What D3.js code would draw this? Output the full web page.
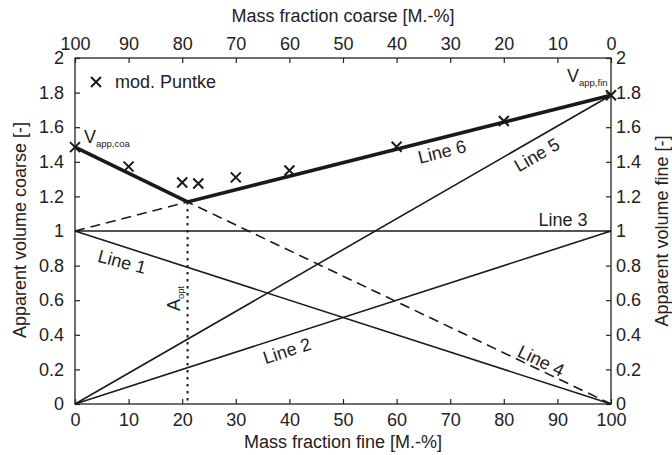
<!DOCTYPE html>
<html>
<head>
<meta charset="utf-8">
<script src="https://cdn.jsdelivr.net/npm/d3@7"></script>
<style>
  body { margin: 0; background: #fff; }
  svg { font-family: "Liberation Sans", Arial, sans-serif; }
</style>
</head>
<body>
<script>
// values
const fineTicks = [0, 10, 20, 30, 40, 50, 60, 70, 80, 90, 100];
const volTicks = [0, 0.2, 0.4, 0.6, 0.8, 1, 1.2, 1.4, 1.6, 1.8, 2];

const line1 = [[0, 1], [100, 0]];
const line2 = [[0, 0], [100, 1]];
const line3 = [[0, 1], [100, 1]];
const line4 = [[0, 1], [21, 1.168], [100, 0]];
const line5 = [[0, 0], [100, 1.785]];
const line6 = [[0, 1.485], [21, 1.168], [100, 1.785]];
const aOpt = [[21, 1.168], [21, 0]];

const puntkeFine = [0, 10, 20, 23, 30, 40, 60, 80, 100];
const puntkeVol = [1.485, 1.372, 1.28, 1.275, 1.31, 1.35, 1.487, 1.636, 1.785];

const w = 672, h = 455;
const mLeft = 75, mRight = 611, mTop = 58, mBottom = 404;
const fs = 18;

const svg = d3.select("body").append("svg")
  .attr("width", w)
  .attr("height", h);

const x = d3.scaleLinear().domain([0, 100]).range([mLeft, mRight]);
const xTop = d3.scaleLinear().domain([100, 0]).range([mLeft, mRight]);
const y = d3.scaleLinear().domain([0, 2]).range([mBottom, mTop]);

const fmt = d => d3.format("~g")(d);

svg.append("g")
  .attr("transform", "translate(0," + mBottom + ")")
  .call(d3.axisBottom(x).tickValues(fineTicks).tickSizeInner(-5).tickSizeOuter(0).tickPadding(9));
svg.append("g")
  .attr("transform", "translate(0," + mTop + ")")
  .call(d3.axisTop(xTop).tickValues(fineTicks).tickSizeInner(-5).tickSizeOuter(0).tickPadding(8));
svg.append("g")
  .attr("transform", "translate(" + mLeft + ",0)")
  .call(d3.axisLeft(y).tickValues(volTicks).tickFormat(fmt).tickSizeInner(-5).tickSizeOuter(0).tickPadding(11));
svg.append("g")
  .attr("transform", "translate(" + mRight + ",0)")
  .call(d3.axisRight(y).tickValues(volTicks).tickFormat(fmt).tickSizeInner(-5).tickSizeOuter(0).tickPadding(5));

svg.selectAll(".tick text").attr("font-size", fs).attr("fill", "#222").attr("font-family", "Liberation Sans, Arial, sans-serif");
svg.selectAll(".tick line").attr("stroke", "#222").attr("stroke-width", 1.2);
svg.selectAll(".domain").remove();

// frame
svg.append("rect")
  .attr("x", mLeft).attr("y", mTop)
  .attr("width", mRight - mLeft).attr("height", mBottom - mTop)
  .attr("fill", "none").attr("stroke", "#222").attr("stroke-width", 1.3);

const line = d3.line().x(d => x(d[0])).y(d => y(d[1]));

const plot = svg.append("g").attr("fill", "none").attr("stroke", "#1a1a1a");

plot.append("path").attr("d", line(line1)).attr("stroke-width", 1.6);
plot.append("path").attr("d", line(line2)).attr("stroke-width", 1.6);
plot.append("path").attr("d", line(line3)).attr("stroke-width", 1.6);
plot.append("path").attr("d", line(line5)).attr("stroke-width", 1.6);
plot.append("path").attr("d", line(line4)).attr("stroke-width", 1.6).attr("stroke-dasharray", "10,6");
plot.append("path").attr("d", line(aOpt)).attr("stroke-width", 2).attr("stroke-dasharray", "2.5,4.5");
plot.append("path").attr("d", line(line6)).attr("stroke-width", 3.6);

// mod. Puntke markers
const cross = (g, cx, cy, r) => {
  g.append("path")
    .attr("d", `M${cx - r},${cy - r}L${cx + r},${cy + r}M${cx - r},${cy + r}L${cx + r},${cy - r}`)
    .attr("stroke", "#1a1a1a").attr("stroke-width", 2).attr("fill", "none");
};
const marks = svg.append("g");
puntkeFine.forEach((f, i) => cross(marks, x(f), y(puntkeVol[i]), 5));

// legend
cross(svg, 96, 82, 5);
svg.append("text").attr("x", 115).attr("y", 88).attr("font-size", fs).attr("fill", "#222").text("mod. Puntke");

// axis titles
svg.append("text").attr("x", 343).attr("y", 22).attr("text-anchor", "middle")
  .attr("font-size", fs).attr("fill", "#222").text("Mass fraction coarse [M.-%]");
svg.append("text").attr("x", 343).attr("y", 448).attr("text-anchor", "middle")
  .attr("font-size", fs).attr("fill", "#222").text("Mass fraction fine [M.-%]");
svg.append("text").attr("transform", "translate(26,230) rotate(-90)").attr("text-anchor", "middle")
  .attr("font-size", fs).attr("fill", "#222").text("Apparent volume coarse [-]");
svg.append("text").attr("transform", "translate(668,231) rotate(-90)").attr("text-anchor", "middle")
  .attr("font-size", fs).attr("fill", "#222").text("Apparent volume fine [-]");

// line labels
const lbl = (t, cx, cy, rot) => svg.append("text")
  .attr("transform", `translate(${cx},${cy}) rotate(${rot})`)
  .attr("text-anchor", "middle").attr("dominant-baseline", "central")
  .attr("font-size", fs).attr("fill", "#222").text(t);
lbl("Line 1", 122, 262, 15);
lbl("Line 2", 287, 351, -18);
lbl("Line 3", 563, 220, 0);
lbl("Line 4", 541, 361, 26);
lbl("Line 5", 537, 155, -30);
lbl("Line 6", 442, 152, -14);

// V labels with subscripts
const vl = svg.append("text").attr("x", 84).attr("y", 143).attr("font-size", fs).attr("fill", "#222");
vl.append("tspan").text("V");
vl.append("tspan").attr("dy", 4).attr("font-size", 9.5).text("app,coa");
const vf = svg.append("text").attr("x", 567).attr("y", 82).attr("font-size", fs).attr("fill", "#222");
vf.append("tspan").text("V");
vf.append("tspan").attr("dy", 4).attr("font-size", 9.5).text("app,fin");

// A_opt
const ao = svg.append("text").attr("transform", "translate(180,311) rotate(-90)").attr("font-size", fs).attr("fill", "#222");
ao.append("tspan").text("A");
ao.append("tspan").attr("dy", 4).attr("font-size", 9.5).text("opt");
</script>
</body>
</html>
